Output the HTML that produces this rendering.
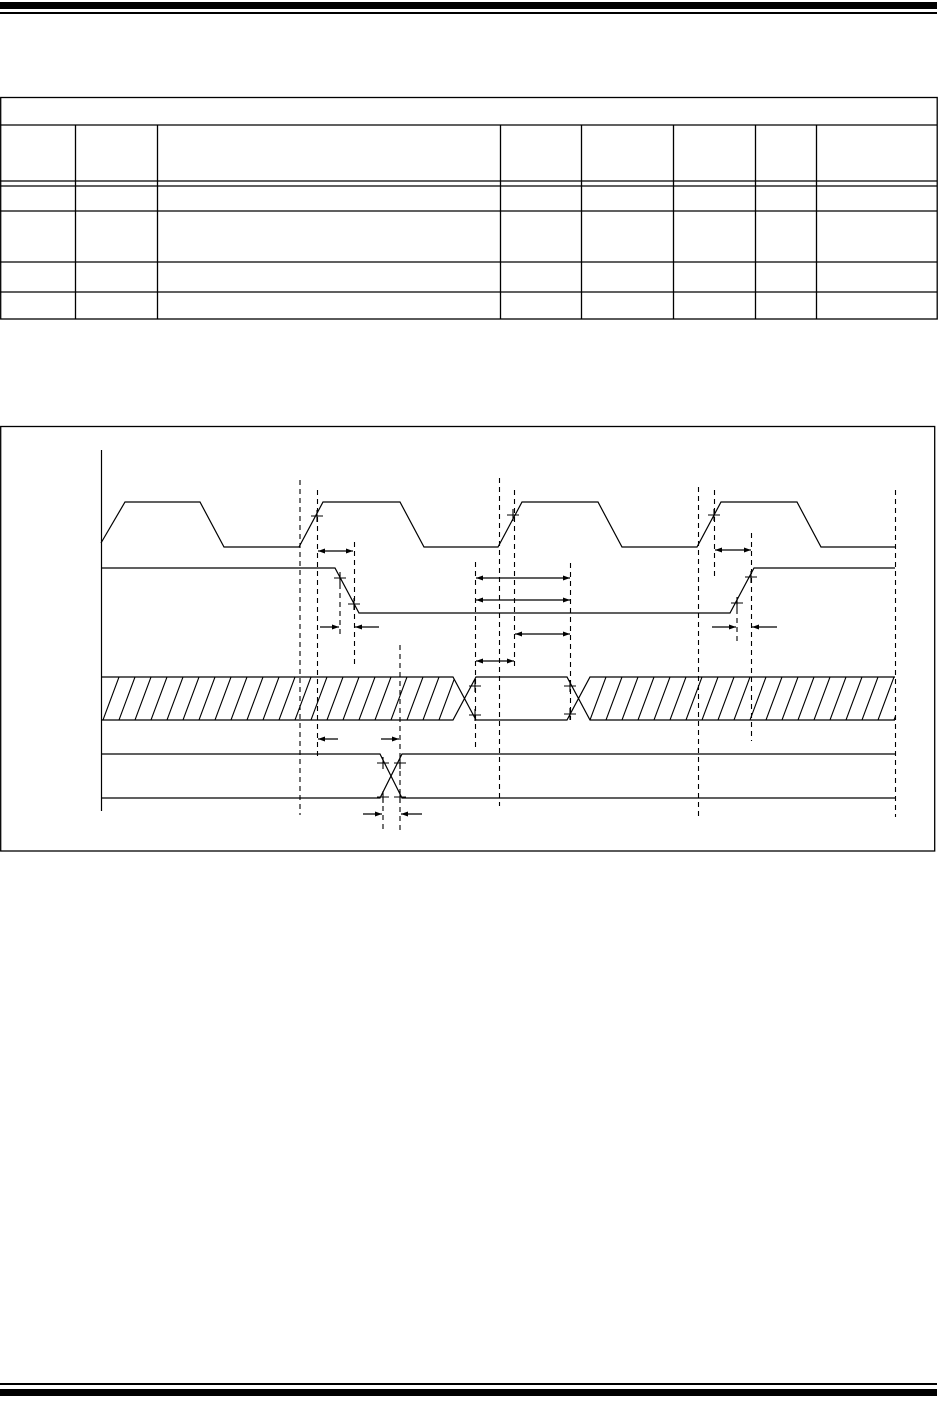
<!DOCTYPE html>
<html><head><meta charset="utf-8"><style>
html,body{margin:0;padding:0;background:#fff;}
svg{display:block;}
</style></head><body>
<svg width="939" height="1411" viewBox="0 0 939 1411" xmlns="http://www.w3.org/2000/svg">
<defs>
<marker id="ah" viewBox="0 0 10 10" refX="10" refY="5" markerWidth="10" markerHeight="7" markerUnits="userSpaceOnUse" orient="auto-start-reverse"><path d="M0,1.5 L10,5 L0,8.5 z" fill="#000"/></marker>
</defs>
<!-- header bars -->
<rect x="0" y="2" width="937" height="7" fill="#000"/>
<rect x="0" y="12" width="937" height="2" fill="#000"/>
<rect x="0" y="1383" width="937" height="2" fill="#000"/>
<rect x="0" y="1389" width="937" height="7" fill="#000"/>

<!-- table -->
<g stroke="#000" stroke-width="1.3" fill="none">
<rect x="0.7" y="97.5" width="936.5" height="221.5"/>
<line x1="0" y1="125" x2="937" y2="125"/>
<line x1="0" y1="181" x2="937" y2="181"/>
<line x1="0" y1="186" x2="937" y2="186"/>
<line x1="0" y1="211" x2="937" y2="211"/>
<line x1="0" y1="262" x2="937" y2="262"/>
<line x1="0" y1="292" x2="937" y2="292"/>
<line x1="75.5" y1="125" x2="75.5" y2="319"/>
<line x1="157.5" y1="125" x2="157.5" y2="319"/>
<line x1="500.5" y1="125" x2="500.5" y2="319"/>
<line x1="581.5" y1="125" x2="581.5" y2="319"/>
<line x1="673.5" y1="125" x2="673.5" y2="319"/>
<line x1="755.5" y1="125" x2="755.5" y2="319"/>
<line x1="816.5" y1="125" x2="816.5" y2="319"/>
</g>

<!-- diagram box -->
<rect x="0.7" y="426.5" width="934" height="424.5" fill="none" stroke="#000" stroke-width="1.3"/>

<g stroke="#000" stroke-width="1.2" fill="none">
<!-- axis -->
<line x1="101.5" y1="450" x2="101.5" y2="811"/>
<!-- clock -->
<polyline points="101,543 125,502 200,502 224,547 299,547 323,502 400,502 424,547 498,547 522,502 598,502 622,547 697,547 721,502 797,502 821,547 896,547"/>
<!-- signal 2 -->
<polyline points="102,568 335,568 359,613 730,613 754,568 895,568"/>
<!-- data bus -->
<polyline points="102,677 453,677 476,720 567,720 590,677 895,677"/>
<polyline points="102,720 453,720 476,677 567,677 590,720 895,720"/>
<!-- signal 4 -->
<polyline points="102,754 380,754 402,798 895,798"/>
<polyline points="102,798 380,798 402,754 895,754"/>
</g>

<!-- hatching -->
<clipPath id="c1"><polygon points="102,677 453,677 464,698 453,720 102,720"/></clipPath>
<clipPath id="c2"><polygon points="590,677 895,677 895,720 590,720 579,698"/></clipPath>
<g stroke="#000" stroke-width="1.1" clip-path="url(#c1)">
<path d="M103,720 l16,-43 M119,720 l16,-43 M135,720 l16,-43 M151,720 l16,-43 M167,720 l16,-43 M183,720 l16,-43 M199,720 l16,-43 M215,720 l16,-43 M231,720 l16,-43 M247,720 l16,-43 M263,720 l16,-43 M279,720 l16,-43 M295,720 l16,-43 M311,720 l16,-43 M327,720 l16,-43 M343,720 l16,-43 M359,720 l16,-43 M375,720 l16,-43 M391,720 l16,-43 M407,720 l16,-43 M423,720 l16,-43 M439,720 l16,-43"/>
</g>
<g stroke="#000" stroke-width="1.1" clip-path="url(#c2)">
<path d="M590,720 l16,-43 M606,720 l16,-43 M622,720 l16,-43 M638,720 l16,-43 M654,720 l16,-43 M670,720 l16,-43 M686,720 l16,-43 M702,720 l16,-43 M718,720 l16,-43 M734,720 l16,-43 M750,720 l16,-43 M766,720 l16,-43 M782,720 l16,-43 M798,720 l16,-43 M814,720 l16,-43 M830,720 l16,-43 M846,720 l16,-43 M862,720 l16,-43 M878,720 l16,-43 M894,720 l16,-43"/>
</g>

<!-- dashed lines -->
<g stroke="#000" stroke-width="1.1" stroke-dasharray="5,4" fill="none">
<line x1="300" y1="480" x2="300" y2="815"/>
<line x1="317.5" y1="490" x2="317.5" y2="757"/>
<line x1="354.5" y1="542" x2="354.5" y2="667"/>
<line x1="340" y1="575" x2="340" y2="636"/>
<line x1="400" y1="645" x2="400" y2="830"/>
<line x1="383" y1="797" x2="383" y2="830"/>
<line x1="475.5" y1="562" x2="475.5" y2="750"/>
<line x1="499.5" y1="478" x2="499.5" y2="806"/>
<line x1="514.5" y1="490" x2="514.5" y2="670"/>
<line x1="570.5" y1="563" x2="570.5" y2="720"/>
<line x1="698.5" y1="487" x2="698.5" y2="817"/>
<line x1="714.5" y1="490" x2="714.5" y2="580"/>
<line x1="737" y1="600" x2="737" y2="643"/>
<line x1="751.5" y1="533" x2="751.5" y2="741"/>
<line x1="895.5" y1="490" x2="895.5" y2="817"/>
</g>

<!-- tick crosses -->
<g stroke="#000" stroke-width="1.1">
<path d="M311,516h12M317,510v12 M507,515h12M513,509v12 M708,515h12M714,509v12
M334,578h12M340,572v12 M348,604h12M354,598v12 M731,603h12M737,597v12 M745,577h12M751,571v12
M469,686h12M475,680v12 M469,715h12M475,709v12 M564,686h12M570,680v12 M564,714h12M570,708v12
M377,763h12M383,757v12 M377,797h12M383,791v12 M394,763h12M400,757v12 M394,797h12M400,791v12"/>
</g>

<!-- arrows -->
<g stroke="#000" stroke-width="1.2" fill="none">
<line x1="318" y1="551" x2="353" y2="551" marker-start="url(#ah)" marker-end="url(#ah)"/>
<line x1="320" y1="627" x2="339" y2="627" marker-end="url(#ah)"/>
<line x1="379" y1="627" x2="355" y2="627" marker-end="url(#ah)"/>
<line x1="338" y1="739" x2="318" y2="739" marker-end="url(#ah)"/>
<line x1="381" y1="739" x2="399" y2="739" marker-end="url(#ah)"/>
<line x1="363" y1="814" x2="382" y2="814" marker-end="url(#ah)"/>
<line x1="422" y1="814" x2="401" y2="814" marker-end="url(#ah)"/>
<line x1="476" y1="578" x2="570" y2="578" marker-start="url(#ah)" marker-end="url(#ah)"/>
<line x1="476" y1="600" x2="570" y2="600" marker-start="url(#ah)" marker-end="url(#ah)"/>
<line x1="515" y1="634" x2="570" y2="634" marker-start="url(#ah)" marker-end="url(#ah)"/>
<line x1="476" y1="661" x2="514" y2="661" marker-start="url(#ah)" marker-end="url(#ah)"/>
<line x1="715" y1="550" x2="751" y2="550" marker-start="url(#ah)" marker-end="url(#ah)"/>
<line x1="712" y1="627" x2="736" y2="627" marker-end="url(#ah)"/>
<line x1="777" y1="627" x2="752" y2="627" marker-end="url(#ah)"/>
</g>
</svg>
</body></html>
